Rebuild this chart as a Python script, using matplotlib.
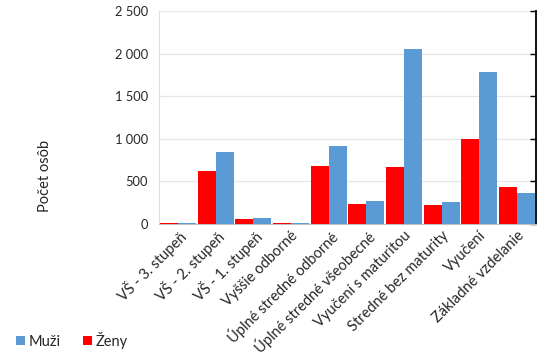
import matplotlib
matplotlib.use("Agg")
import matplotlib.pyplot as plt
import numpy as np
from matplotlib.ticker import FuncFormatter

plt.rcParams['font.family'] = ['Lato', 'DejaVu Sans']

categories = ["VŠ - 3. stupeň", "VŠ - 2. stupeň", "VŠ - 1. stupeň", "Vyššie odborné",
              "Úplné stredné odborné", "Úplné stredné všeobecné", "Vyučení s maturitou",
              "Stredné bez maturity", "Vyučení", "Základné vzdelanie"]
zeny = [14, 622, 59, 14, 685, 235, 669, 223, 998, 434]
muzi = [12, 845, 70, 12, 915, 270, 2054, 258, 1784, 364]

blue = "#5B9BD5"
red = "#FF0000"

fig = plt.figure(figsize=(5.48, 3.55), dpi=100)
ax = fig.add_axes([0.2905, 0.369, 0.687, 0.600])

x = np.arange(len(categories))
w = 0.478
ax.bar(x - w/2, zeny, width=w, color=red, label="Ženy", zorder=3)
ax.bar(x + w/2, muzi, width=w, color=blue, label="Muži", zorder=3)

ax.set_xlim(-0.5, len(categories) - 0.5)
ax.set_ylim(0, 2500)
ax.set_yticks([0, 500, 1000, 1500, 2000, 2500])
ax.yaxis.set_major_formatter(FuncFormatter(lambda v, p: f"{int(v):,}".replace(",", " ")))
ax.grid(axis='y', color='#E6E6E6', linewidth=0.9, zorder=0)
ax.set_axisbelow(True)

ax.spines['top'].set_visible(False)
ax.spines['left'].set_color('#E0E0E0')
ax.spines['bottom'].set_color('#BFBFBF')
ax.spines['right'].set_color('black')
ax.spines['right'].set_linewidth(1.3)

ax.tick_params(axis='y', which='both', left=False, right=True, labelleft=True,
               labelright=False, direction='in', length=4, width=1.0, color='black',
               labelsize=9.3, labelcolor='#262626', pad=8)
ax.tick_params(axis='x', length=0, labelsize=10.5, labelcolor='#262626', pad=3)
ax.set_xticks(x)
ax.set_xticklabels(categories, rotation=45, ha='right', rotation_mode='anchor')

fig.text(0.082, 0.505, "Počet osôb", rotation=90, ha='center', va='center',
         fontsize=10.5, color='#262626')

h, l = ax.get_legend_handles_labels()
fig.legend([h[1], h[0]], [l[1], l[0]], loc='lower left', bbox_to_anchor=(0.005, -0.02),
           ncol=2, frameon=False, fontsize=10.5, handlelength=0.6, handleheight=0.6,
           handletextpad=0.3, columnspacing=1.5, labelcolor='#262626')

fig.savefig("out.png", dpi=100)
